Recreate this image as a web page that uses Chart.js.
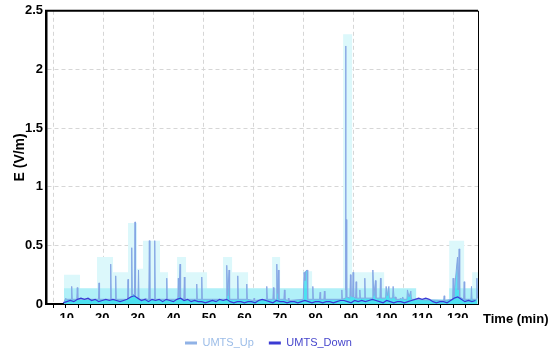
<!DOCTYPE html>
<html><head><meta charset="utf-8">
<script src="https://cdn.jsdelivr.net/npm/chart.js@4.4.0/dist/chart.umd.min.js"></script>
<style>html,body{margin:0;padding:0;background:#fff;}</style>
</head><body>
<canvas id="c" width="550" height="354"></canvas>
<script>
// ---- data ----
const xTickValues = [10, 20, 30, 40, 50, 60, 70, 80, 90, 100, 110, 120];
const yTickValues = [0, 0.5, 1, 1.5, 2, 2.5];

const upTime = [9.25,9.55,9.71,9.87,11.25,11.4,11.55,12.82,12.97,13.12,18.93,19.08,19.23,22.23,22.38,22.53,23.63,23.78,23.93,
  27.09,27.24,27.39,28.14,28.29,28.44,29.06,29.21,29.36,30.05,30.2,30.35,31.96,32.11,32.26,33.09,33.24,33.39,34.61,34.76,34.91,
  37.99,38.14,38.29,41.25,41.4,41.55,41.88,42.03,42.94,43.09,43.24,46.43,46.58,46.73,47.84,47.99,48.14,
  54.87,55.02,55.3,55.67,55.82,57.97,58.12,58.27,60.5,60.65,60.8,62.56,62.71,62.86,66.13,66.28,66.43,67.99,68.14,68.29,
  68.95,69.1,69.3,69.55,69.7,71.09,71.24,71.39,72.21,72.36,72.51,76.55,76.78,77.0,77.2,77.63,77.8,79.08,79.23,79.38,
  81.13,81.28,81.43,82.34,82.49,82.64,87.24,87.39,87.54,88.31,88.46,88.56,88.62,88.77,89.66,89.81,89.96,90.42,90.57,90.72,
  91.26,91.41,91.56,92.31,92.46,92.61,93.71,93.86,94.01,95.97,96.12,96.4,96.85,97.0,98.11,98.26,98.41,
  99.71,99.86,100.2,100.62,100.77,101.68,101.83,102.1,102.48,102.63,103.73,103.88,104.2,104.56,104.71,
  105.7,105.85,106.3,106.81,106.96,116.03,116.18,116.33,118.56,118.71,118.9,119.93,120.1,120.4,120.55,
  121.66,121.81,121.96,123.72,123.87,124.02,125.24,125.39,125.5];
const upValue = [0.02,0.04,0.05,0.04,0.04,0.15,0.04,0.04,0.14,0.04,0.04,0.18,0.04,0.04,0.34,0.04,0.04,0.24,0.04,
  0.04,0.21,0.05,0.06,0.48,0.08,0.08,0.70,0.06,0.05,0.29,0.04,0.04,0.05,0.04,0.04,0.54,0.04,0.04,0.54,0.04,
  0.04,0.22,0.04,0.04,0.22,0.06,0.34,0.05,0.04,0.23,0.04,0.04,0.17,0.04,0.04,0.23,0.04,
  0.04,0.33,0.07,0.29,0.04,0.04,0.24,0.04,0.04,0.17,0.04,0.03,0.05,0.03,0.04,0.15,0.04,0.04,0.14,0.04,
  0.04,0.34,0.09,0.29,0.04,0.04,0.12,0.04,0.03,0.05,0.03,0.04,0.27,0.20,0.28,0.29,0.04,0.04,0.15,0.04,
  0.04,0.10,0.04,0.04,0.11,0.04,0.04,0.12,0.04,0.05,2.20,0.12,0.72,0.06,0.05,0.25,0.07,0.06,0.27,0.06,
  0.05,0.19,0.05,0.05,0.12,0.05,0.05,0.22,0.05,0.05,0.29,0.07,0.20,0.05,0.05,0.22,0.05,
  0.05,0.15,0.07,0.15,0.05,0.05,0.15,0.05,0.06,0.04,0.04,0.05,0.04,0.06,0.04,
  0.04,0.12,0.06,0.11,0.04,0.03,0.07,0.03,0.04,0.22,0.06,0.40,0.12,0.47,0.06,
  0.04,0.19,0.04,0.04,0.15,0.04,0.04,0.22,0.05];

const downTime = [9,10,11,12,13,14,15,16,17,18,19,20,21,22,23,24,25,26,27,28,29,30,31,32,33,34,35,36,37,38,39,40,
  41,42,43,44,45,46,47,48,49,50,51,52,53,54,55,56,57,58,59,60,61,62,63,64,65,66,67,68,69,70,71,72,73,74,75,76,77,78,79,80,
  81,82,83,84,85,86,87,88,89,90,91,92,93,94,95,96,97,98,99,100,101,102,103,104,105,106,107,108,109,110,111,112,113,114,115,
  116,117,118,119,120,121,122,123,124,125];
const downValue = [0.01,0.02,0.03,0.02,0.04,0.05,0.04,0.05,0.03,0.04,0.02,0.03,0.04,0.03,0.04,0.03,0.02,0.03,0.04,0.06,0.07,0.05,
  0.03,0.04,0.02,0.04,0.03,0.04,0.02,0.04,0.03,0.02,0.04,0.05,0.03,0.04,0.02,0.03,0.02,0.02,0.01,0.02,0.03,0.02,0.04,0.03,0.04,
  0.02,0.01,0.02,0.02,0.01,0.02,0.02,0.01,0.03,0.04,0.03,0.02,0.01,0.03,0.02,0.02,0.01,0.02,0.02,0.01,0.02,0.03,0.02,0.01,0.02,
  0.02,0.01,0.02,0.02,0.01,0.02,0.03,0.03,0.02,0.01,0.03,0.02,0.03,0.02,0.03,0.04,0.03,0.02,0.01,0.03,0.02,0.01,0.02,0.02,0.01,
  0.02,0.03,0.04,0.05,0.04,0.05,0.04,0.02,0.01,0.02,0.02,0.01,0.03,0.05,0.06,0.04,0.02,0.03,0.02,0.03];

// envelope blocks behind the uplink trace (stepped)
const bandTime = [9.23,13.73,18.52,23.02,27.24,29.78,31.47,36.25,38.5,41.04,43.57,49.48,53.98,56.52,61.02,67.78,70.03,
  76.5,79.03,87.76,90.3,99.3,104.36,108.3,117.6,121.8,124.06,125.7];
const bandHigh = [0.25,0,0.40,0.27,0.69,0.30,0.54,0.27,0,0.40,0.27,0,0.40,0.27,0,0.40,0,
  0.28,0,2.30,0.27,0,0,0,0.54,0,0.27,0.27];
const bandLow = [0.135,0.135,0.135,0.135,0.135,0.135,0.135,0.135,0.135,0.135,0.135,0.135,0.135,0.135,0.135,0.135,0.135,
  0.135,0.135,0.135,0.135,0.135,0.135,0.04,0.135,0.135,0.135,0.135];

// ---- chart ----
const FONT = "'Liberation Sans', Arial, Helvetica, sans-serif";
Chart.defaults.font.family = FONT;
const pts = (t, v) => t.map((x, i) => ({ x: x, y: v[i] }));
const X_MIN = 4.17, X_MAX = 125.7;
const GRID_START = 6.14, GRID_STEP = 3.518;

const chartFrame = {
  id: 'chartFrame',
  afterLayout(chart) {
    const lg = chart.legend;
    if (lg && lg.lineWidths) {
      const pad = lg.options.labels.padding;
      const cur = (lg.left + pad + lg.right - lg.lineWidths[0]) / 2;
      const dx = 185 - cur;
      lg.left += dx; lg.right += dx;
      const dy = 322.5 - lg.top;
      lg.top += dy; lg.bottom += dy;
    }
  },
  afterDraw(chart) {
    const { ctx, chartArea: a } = chart;
    ctx.save();
    ctx.strokeStyle = '#000';
    ctx.lineWidth = 2;
    ctx.beginPath(); ctx.moveTo(a.left - 1, a.top); ctx.lineTo(a.right, a.top); ctx.stroke();
    ctx.lineWidth = 1;
    ctx.beginPath(); ctx.moveTo(a.right + 0.5, a.top); ctx.lineTo(a.right + 0.5, a.bottom); ctx.stroke();
    ctx.font = 'bold 13px ' + FONT;
    ctx.fillStyle = '#000';
    ctx.textAlign = 'left';
    ctx.textBaseline = 'middle';
    ctx.fillText('Time (min)', a.right + 5, a.bottom + 15);
    ctx.restore();
  }
};

new Chart(document.getElementById('c'), {
  type: 'line',
  data: {
    datasets: [
      { label: 'UMTS_Up', data: pts(upTime, upValue), borderColor: '#86a6e4', borderWidth: 1,
        backgroundColor: 'rgba(10,215,235,0.6)', fill: 'origin', pointRadius: 0, tension: 0, order: 1 },
      { label: 'UMTS_Down', data: pts(downTime, downValue), borderColor: '#3a3ad6', borderWidth: 1.2,
        fill: false, pointRadius: 0, tension: 0, order: 0 },
      { label: 'bandLow', data: pts(bandTime, bandLow), stepped: 'before', fill: 'origin',
        backgroundColor: '#b0f0f8', borderColor: 'rgba(0,0,0,0)', borderWidth: 1, pointRadius: 0, order: 2 },
      { label: 'bandHigh', data: pts(bandTime, bandHigh), stepped: 'before', fill: 'origin',
        backgroundColor: '#dcf8fb', borderColor: 'rgba(0,0,0,0)', borderWidth: 1, pointRadius: 0, order: 3 }
    ]
  },
  options: {
    responsive: false,
    animation: false,
    layout: { padding: { left: 0, right: 72, top: 8, bottom: 0 } },
    plugins: {
      tooltip: { enabled: false },
      legend: {
        position: 'bottom',
        labels: {
          font: { size: 11 },
          padding: 15,
          usePointStyle: true,
          pointStyle: 'line',
          pointStyleWidth: 12,
          filter: (item) => item.text === 'UMTS_Up' || item.text === 'UMTS_Down',
          sort: (a, b) => a.datasetIndex - b.datasetIndex,
          generateLabels: (chart) => {
            const items = Chart.defaults.plugins.legend.labels.generateLabels(chart);
            items.forEach(it => {
              it.lineWidth = 3;
              if (it.text === 'UMTS_Up') { it.strokeStyle = '#90b2e6'; it.fontColor = '#9cbde8'; }
              if (it.text === 'UMTS_Down') { it.strokeStyle = '#3b3bd3'; it.fontColor = '#4646cc'; }
            });
            return items;
          }
        }
      }
    },
    scales: {
      x: {
        type: 'linear', min: X_MIN, max: X_MAX, position: 'bottom', weight: 1,
        afterBuildTicks: s => { s.ticks = xTickValues.map(v => ({ value: v })); },
        afterFit: s => { s.height = 14; },
        ticks: { color: '#000', font: { size: 13, weight: 'bold' }, padding: 7, maxRotation: 0, autoSkip: false,
          callback: v => String(v) },
        grid: { display: false, drawTicks: false },
        border: { display: true, color: '#000', width: 2 }
      },
      x2: {
        type: 'linear', min: X_MIN, max: X_MAX, position: 'bottom', weight: 0,
        afterBuildTicks: s => { const t = []; for (let v = GRID_START; v <= X_MAX; v += GRID_STEP) t.push({ value: v }); s.ticks = t; },
        afterFit: s => { s.height = 0; },
        ticks: { display: false },
        grid: { color: c => (c.index % 4 === 0) ? '#d6d6d6' : 'rgba(0,0,0,0)', lineWidth: 1,
          drawTicks: true, tickLength: 4, tickColor: '#000', tickWidth: 1 },
        border: { display: false, dash: [4, 3] }
      },
      y: {
        type: 'linear', min: 0, max: 2.5, position: 'left',
        afterBuildTicks: s => { s.ticks = yTickValues.map(v => ({ value: v })); },
        afterFit: s => { s.width = 46; },
        ticks: { color: '#000', font: { size: 13, weight: 'bold' }, padding: 3, callback: v => String(v) },
        grid: { color: c => (c.tick && (c.tick.value === 0 || c.tick.value === 2.5)) ? 'rgba(0,0,0,0)' : '#d6d6d6',
          lineWidth: 1, drawTicks: false },
        border: { display: true, color: '#000', width: 2.5, dash: [4, 3] },
        title: { display: true, text: 'E (V/m)', color: '#000', font: { size: 14, weight: 'bold' }, padding: { top: 12, bottom: 0 } }
      }
    }
  },
  plugins: [chartFrame]
});
</script>
</body></html>
